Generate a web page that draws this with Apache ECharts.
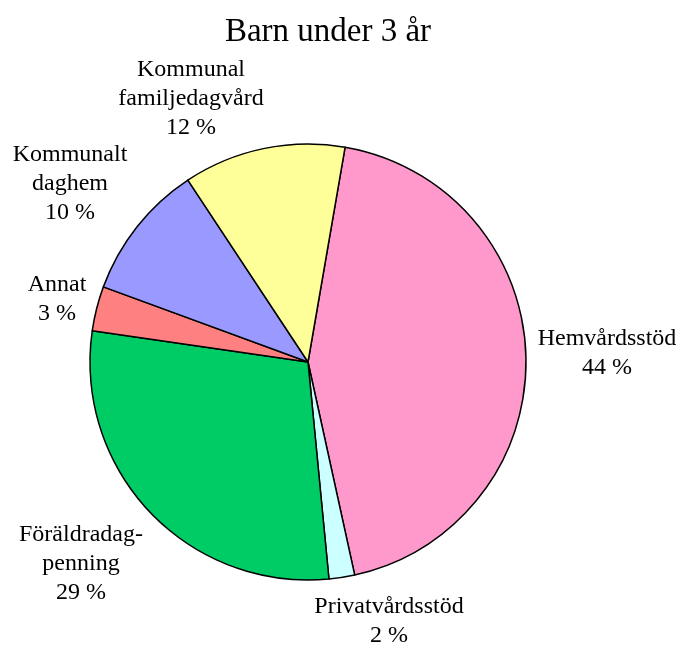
<!DOCTYPE html>
<html>
<head>
<meta charset="utf-8">
<script src="https://cdn.jsdelivr.net/npm/echarts@6/dist/echarts.min.js"></script>
<style>html,body{margin:0;padding:0;background:#fff;}#chart{width:681px;height:648px;}</style>
</head>
<body>
<div id="chart"></div>
<script>
const titleText = 'Barn under 3 år';
const categories = ['Hemvårdsstöd', 'Privatvårdsstöd', 'Föräldradag-\npenning', 'Annat', 'Kommunalt\ndaghem', 'Kommunal\nfamiljedagvård'];
const values = [43.8, 1.9, 28.8, 3.3, 10.1, 12.0];
const colors = ['#FF99CC', '#CCFFFF', '#00CC66', '#FF8080', '#9999FF', '#FFFF99'];
const labelPos = [[607, 353], [389, 621], [81, 564], [57, 299], [70, 184], [191, 99]];

const chart = echarts.init(document.getElementById('chart'), null, {renderer: 'canvas'});
chart.setOption({
  animation: false,
  backgroundColor: '#fff',
  title: {
    text: titleText, left: 323, top: 11, textAlign: 'center',
    textStyle: {fontFamily: 'Liberation Serif', fontSize: 33, fontWeight: 'normal', color: '#000'}
  },
  series: [{
    type: 'pie',
    center: [308, 362],
    radius: 218,
    startAngle: 80.2,
    clockwise: true,
    data: categories.map((c, i) => ({name: c, value: values[i], itemStyle: {color: colors[i]}})),
    itemStyle: {borderColor: '#000', borderWidth: 1.5},
    label: {
      show: true, position: 'outside', alignTo: 'none', overflow: 'none',
      formatter: p => p.name + '\n' + Math.round(p.value) + ' %',
      fontFamily: 'Liberation Serif', fontSize: 24, lineHeight: 29, color: '#000', align: 'center'
    },
    labelLine: {show: false},
    labelLayout: p => ({x: labelPos[p.dataIndex][0], y: labelPos[p.dataIndex][1], align: 'center', verticalAlign: 'middle', width: 300}),
    emphasis: {disabled: true}
  }]
});
</script>
</body>
</html>
